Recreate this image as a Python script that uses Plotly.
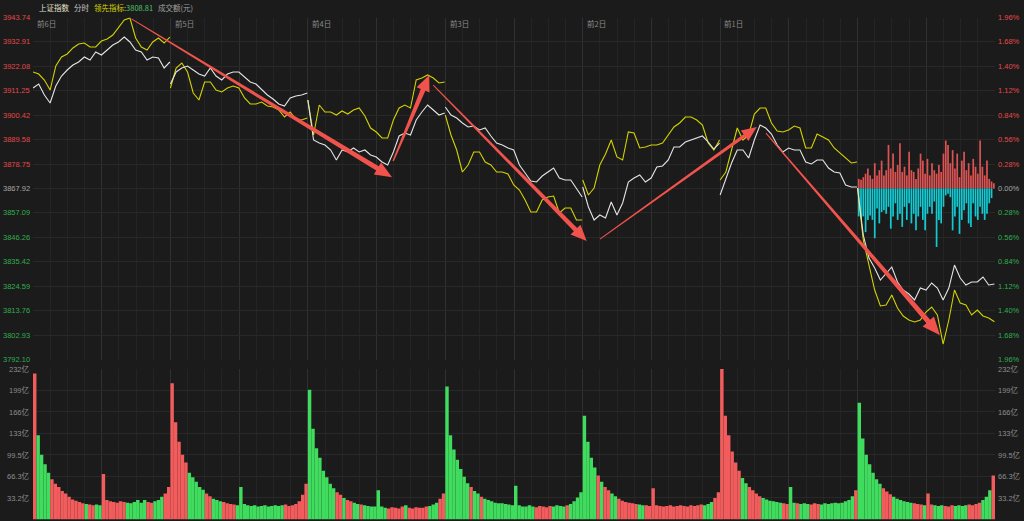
import numpy as np
import plotly.graph_objects as go

# ---------------- data ----------------
PREV_CLOSE = 3867.92
LEAD_LAST = 3808.81
day_labels = ["前6日", "前5日", "前4日", "前3日", "前2日", "前1日"]

price_ticks = [3943.74, 3932.91, 3922.08, 3911.25, 3900.42, 3889.58, 3878.75, 3867.92,
               3857.09, 3846.26, 3835.42, 3824.59, 3813.76, 3802.93, 3792.10]
pct_labels = ["1.96%", "1.68%", "1.40%", "1.12%", "0.84%", "0.56%", "0.28%", "0.00%",
              "0.28%", "0.56%", "0.84%", "1.12%", "1.40%", "1.68%", "1.96%"]
vol_ticks = [33.2, 66.3, 99.5, 133, 166, 199, 232]
vol_labels = ["33.2亿", "66.3亿", "99.5亿", "133亿", "166亿", "199亿", "232亿"]

# 上证指数 (white line), one value every 10 minutes per day
idx_d1 = [3912.48, 3914.25, 3909.38, 3905.83, 3913.37, 3917.80, 3920.46, 3922.68, 3924.01, 3926.23,
          3924.90, 3928.44, 3927.11, 3929.33, 3931.55, 3932.88, 3935.09, 3932.88, 3929.33, 3928.44,
          3924.90, 3926.23, 3925.78, 3921.35, 3924.01]
idx_d2 = [3914.25, 3919.58, 3921.35, 3922.24, 3920.46, 3918.69, 3917.80, 3921.35, 3917.80, 3916.03,
          3918.69, 3919.58, 3919.58, 3917.36, 3915.14, 3914.25, 3911.59, 3909.38, 3907.60, 3905.39,
          3904.50, 3908.05, 3908.93, 3909.38, 3910.26]
idx_d3 = [3907.16, 3889.42, 3888.09, 3887.21, 3884.99, 3880.56, 3884.99, 3884.10, 3885.88, 3884.10,
          3884.99, 3882.77, 3881.89, 3879.67, 3878.34, 3884.10, 3891.20, 3892.53, 3891.64, 3898.29,
          3901.84, 3904.94, 3902.73, 3900.51, 3901.40]
idx_d4 = [3904.06, 3900.51, 3899.18, 3896.96, 3895.19, 3895.63, 3893.86, 3894.74, 3891.20, 3888.09,
          3887.21, 3885.88, 3884.99, 3878.34, 3874.79, 3871.25, 3870.80, 3873.46, 3875.24, 3877.01,
          3872.57, 3871.69, 3871.69, 3868.14, 3864.15]
idx_d5 = [3868.58, 3859.71, 3853.95, 3856.17, 3854.84, 3861.93, 3856.17, 3861.49, 3870.80, 3872.57,
          3873.91, 3870.80, 3872.57, 3877.45, 3877.90, 3880.56, 3886.32, 3886.32, 3888.54, 3889.42,
          3890.31, 3891.20, 3888.54, 3885.43, 3888.09]
idx_d6 = [3865.04, 3872.57, 3879.23, 3884.99, 3884.99, 3881.44, 3889.42, 3896.07, 3894.74, 3892.08,
          3887.21, 3884.10, 3885.88, 3884.99, 3884.99, 3879.67, 3878.78, 3880.56, 3880.56, 3877.01,
          3875.24, 3874.79, 3869.47, 3868.58, 3868.58]
idx_d7 = [3868.14, 3847.30, 3837.10, 3832.67, 3827.35, 3830.01, 3833.11, 3826.46, 3822.91, 3821.14,
          3818.48, 3823.80, 3822.91, 3826.02, 3823.80, 3818.48, 3823.80, 3833.99, 3828.23, 3825.13,
          3826.46, 3826.46, 3828.68, 3825.13, 3825.57]

# 领先指标 (yellow line)
lead_d1 = [3919.58, 3918.69, 3916.03, 3911.59, 3922.24, 3926.23, 3927.56, 3930.22, 3931.99, 3932.43,
           3930.66, 3930.66, 3933.32, 3934.21, 3935.98, 3939.53, 3942.63, 3943.52, 3934.65, 3930.66,
           3929.33, 3932.88, 3934.65, 3932.43, 3935.09]
lead_d2 = [3912.48, 3921.35, 3923.57, 3919.58, 3910.26, 3907.16, 3915.14, 3915.14, 3911.59, 3910.71,
           3912.48, 3913.37, 3912.48, 3908.05, 3905.39, 3905.39, 3906.27, 3904.50, 3904.06, 3902.73,
           3899.62, 3901.84, 3898.74, 3898.29, 3899.18]
lead_d3 = [3907.16, 3891.64, 3904.94, 3901.84, 3901.84, 3900.51, 3902.28, 3900.95, 3902.73, 3903.61,
           3900.07, 3894.74, 3892.97, 3890.31, 3890.31, 3898.29, 3903.61, 3904.94, 3903.61, 3916.03,
           3916.91, 3918.25, 3916.91, 3914.70, 3915.14]
lead_d4 = [3900.51, 3891.64, 3884.99, 3875.24, 3878.34, 3884.10, 3884.10, 3879.67, 3878.34, 3875.24,
           3875.24, 3874.35, 3869.47, 3867.25, 3862.82, 3857.50, 3857.50, 3862.82, 3864.15, 3864.59,
           3857.06, 3859.27, 3859.27, 3853.95, 3853.95]
lead_d5 = [3871.69, 3865.04, 3868.14, 3878.34, 3883.22, 3889.42, 3881.89, 3880.56, 3892.97, 3892.53,
           3885.88, 3886.32, 3887.21, 3887.21, 3888.09, 3891.64, 3895.19, 3896.96, 3899.62, 3899.62,
           3898.29, 3896.07, 3888.09, 3884.99, 3889.42]
lead_d6 = [3871.69, 3875.24, 3884.99, 3894.74, 3889.42, 3891.64, 3900.95, 3903.61, 3903.61, 3896.96,
           3893.41, 3892.97, 3893.86, 3895.63, 3894.74, 3885.88, 3885.88, 3892.08, 3890.75, 3889.42,
           3885.88, 3883.66, 3881.44, 3879.23, 3879.67]
lead_d7 = [3868.14, 3845.08, 3833.99, 3822.91, 3815.82, 3816.26, 3820.70, 3814.93, 3811.39, 3809.61,
           3808.73, 3809.61, 3813.16, 3815.38, 3811.83, 3798.97, 3809.61, 3822.91, 3817.15, 3816.26,
           3811.83, 3814.05, 3811.39, 3810.50, LEAD_LAST]

# current-day red / cyan histogram (%), one per 4 minutes
hist_up = [0.11, 0.10, 0.13, 0.17, 0.23, 0.15, 0.11, 0.29, 0.15, 0.21, 0.32, 0.15, 0.21, 0.50, 0.23,
           0.40, 0.19, 0.27, 0.52, 0.19, 0.25, 0.15, 0.42, 0.21, 0.19, 0.11, 0.23, 0.40, 0.32, 0.17,
           0.34, 0.15, 0.29, 0.21, 0.17, 0.27, 0.19, 0.40, 0.55, 0.50, 0.29, 0.44, 0.23, 0.40, 0.13,
           0.32, 0.42, 0.21, 0.29, 0.15, 0.34, 0.25, 0.17, 0.55, 0.25, 0.15, 0.32, 0.11, 0.08, 0.06]
hist_down = [0.32, 0.34, 0.32, 0.50, 0.36, 0.31, 0.36, 0.57, 0.23, 0.40, 0.27, 0.25, 0.29, 0.21, 0.46,
             0.32, 0.17, 0.36, 0.29, 0.44, 0.21, 0.36, 0.17, 0.40, 0.29, 0.48, 0.32, 0.21, 0.36, 0.48,
             0.29, 0.21, 0.29, 0.15, 0.67, 0.36, 0.40, 0.21, 0.08, 0.06, 0.10, 0.48, 0.32, 0.21, 0.52,
             0.36, 0.25, 0.17, 0.40, 0.44, 0.17, 0.32, 0.36, 0.21, 0.29, 0.36, 0.29, 0.17, 0.11, 0.00]

# 成交额 (亿), one bar per 6 minutes
vol_d1 = [225, 130, 100, 85, 72, 62, 55, 50, 44, 40, 35, 31, 29, 27, 25, 24, 23, 22, 23, 22,
          70, 30, 28, 27, 26, 28, 27, 26, 25, 27, 30, 26, 30, 27, 26, 28, 30, 35, 40, 50]
vol_d2 = [210, 150, 120, 100, 88, 72, 65, 58, 50, 46, 40, 36, 32, 30, 28, 27, 25, 24, 23, 22,
          50, 24, 22, 21, 22, 20, 21, 22, 20, 21, 22, 21, 22, 23, 21, 22, 24, 28, 38, 55]
vol_d3 = [200, 140, 110, 95, 75, 65, 55, 48, 42, 38, 33, 30, 28, 26, 24, 23, 22, 21, 20, 20,
          45, 20, 18, 17, 19, 18, 17, 20, 22, 18, 17, 19, 18, 18, 20, 21, 23, 26, 32, 40]
vol_d4 = [205, 130, 108, 92, 78, 66, 56, 50, 44, 40, 35, 32, 30, 28, 26, 25, 25, 24, 23, 22,
          52, 22, 20, 20, 22, 20, 19, 21, 20, 19, 21, 20, 22, 21, 20, 22, 24, 28, 34, 42]
vol_d5 = [160, 120, 95, 80, 68, 58, 50, 45, 40, 36, 32, 29, 27, 26, 25, 24, 23, 22, 22, 21,
          48, 22, 21, 20, 21, 22, 20, 21, 22, 21, 20, 22, 21, 22, 23, 22, 24, 27, 33, 42]
vol_d6 = [232, 160, 130, 105, 88, 75, 64, 56, 50, 45, 40, 36, 33, 31, 29, 28, 27, 26, 25, 24,
          50, 26, 25, 24, 25, 24, 23, 25, 24, 23, 25, 24, 25, 26, 25, 26, 28, 30, 36, 45]
vol_d7 = [180, 125, 100, 85, 72, 62, 55, 48, 43, 39, 35, 32, 30, 28, 27, 26, 25, 24, 23, 22,
          40, 23, 22, 21, 22, 21, 20, 22, 21, 22, 21, 22, 23, 22, 24, 26, 30, 35, 45, 68]

idx_days = [idx_d1, idx_d2, idx_d3, idx_d4, idx_d5, idx_d6, idx_d7]
lead_days = [lead_d1, lead_d2, lead_d3, lead_d4, lead_d5, lead_d6, lead_d7]
vol_days = [vol_d1, vol_d2, vol_d3, vol_d4, vol_d5, vol_d6, vol_d7]

# hand-drawn arrows: (minute0, price0, minute1, price1)
arrow_pts = [
    (172, 3943.1, 627, 3872.9),
    (629, 3880.1, 692, 3918.2),
    (699, 3913.8, 967, 3844.6),
    (990, 3845.5, 1264, 3895.2),
    (1280, 3892.5, 1584, 3802.9),
]

# ---------------- layout constants ----------------
W, H = 1024, 521
ML, MR = 33, 29
DAY = 240
NDAYS = 7
XMAX = DAY * NDAYS
BG = "#1b1b1b"
RED = "#e24a4a"
GREEN = "#2fae4e"


def ypap(Y):
    return (H - Y) / H


price_dom = [ypap(359.5), ypap(17.5)]
vol_dom = [ypap(519.5), ypap(369.0)]
PRICE_MIN, PRICE_MAX = price_ticks[-1], price_ticks[0]


def day_x(d, n):
    return list(np.linspace(d * DAY, d * DAY + DAY - 1, n))


fig = go.Figure()

# current-day histogram
hx = [6 * DAY + 4 * k + 2 for k in range(len(hist_up))]
fig.add_trace(go.Bar(x=hx, y=[v * PREV_CLOSE / 100 for v in hist_up], base=PREV_CLOSE, width=3.0,
                     marker=dict(color="#f05a5a", line_width=0), opacity=0.9,
                     xaxis="x", yaxis="y", hoverinfo="skip"))
fig.add_trace(go.Bar(x=hx, y=[-v * PREV_CLOSE / 100 for v in hist_down], base=PREV_CLOSE, width=3.0,
                     marker=dict(color="#12dde6", line_width=0), opacity=0.9,
                     xaxis="x", yaxis="y", hoverinfo="skip"))


def joined(days):
    xs, ys = [], []
    for d, arr in enumerate(days):
        xs += day_x(d, len(arr)) + [None]
        ys += list(arr) + [None]
    return xs, ys


lx, ly = joined(lead_days)
fig.add_trace(go.Scatter(x=lx, y=ly, mode="lines", line=dict(color="#d2d200", width=1.1),
                         xaxis="x", yaxis="y", hoverinfo="skip"))
ix, iy = joined(idx_days)
fig.add_trace(go.Scatter(x=ix, y=iy, mode="lines", line=dict(color="#e4e4e4", width=1.1),
                         xaxis="x", yaxis="y", hoverinfo="skip"))

# volume bars, coloured by the index direction over each bar
vx, vy, vc = [], [], []
for d, vols in enumerate(vol_days):
    xw = day_x(d, len(idx_days[d]))
    step = DAY / len(vols)
    for k, v in enumerate(vols):
        t0 = d * DAY + step * k
        t1 = t0 + step
        p0 = np.interp(t0, xw, idx_days[d])
        p1 = np.interp(t1, xw, idx_days[d])
        vx.append(t0 + step / 2)
        vy.append(v)
        vc.append("#f25c5c" if p1 >= p0 else "#3fdc5e")
fig.add_trace(go.Bar(x=vx, y=vy, width=DAY / len(vol_d1), marker=dict(color=vc, line_width=0),
                     xaxis="x2", yaxis="y2", hoverinfo="skip"))

# arrows as tapered polygons (geometry in pixel space)
plot_w = W - ML - MR
sx = plot_w / XMAX
sy = (price_dom[1] - price_dom[0]) * H / (PRICE_MAX - PRICE_MIN)
arrow_style = [(1.0, 5.0, 17, 7), (1.5, 5.0, 16, 7), (1.0, 4.5, 16, 7), (1.0, 3.5, 15, 6.5), (1.0, 5.0, 18, 7.5)]
for (m0, p0, m1, p1), (w0, w1, hl, hw) in zip(arrow_pts, arrow_style):
    X0, Y0, X1, Y1 = m0 * sx, p0 * sy, m1 * sx, p1 * sy
    L = np.hypot(X1 - X0, Y1 - Y0)
    ux, uy = (X1 - X0) / L, (Y1 - Y0) / L
    nx, ny = -uy, ux
    Bx, By = X1 - ux * hl, Y1 - uy * hl
    pts = [(X0 + nx * w0 / 2, Y0 + ny * w0 / 2), (Bx + nx * w1 / 2, By + ny * w1 / 2),
           (Bx + nx * hw, By + ny * hw), (X1, Y1), (Bx - nx * hw, By - ny * hw),
           (Bx - nx * w1 / 2, By - ny * w1 / 2), (X0 - nx * w0 / 2, Y0 - ny * w0 / 2)]
    pts.append(pts[0])
    fig.add_trace(go.Scatter(x=[p[0] / sx for p in pts], y=[p[1] / sy for p in pts],
                             mode="lines", fill="toself", fillcolor="#f0524c",
                             line=dict(width=0, color="#f0524c"), xaxis="x", yaxis="y",
                             hoverinfo="skip"))

NUMFONT = "Arial, Liberation Sans, Noto Sans CJK SC, sans-serif"
CJKFONT = "Noto Sans CJK SC, Microsoft YaHei, sans-serif"
ann = []
# price axis labels
for i, (p, lab) in enumerate(zip(price_ticks, pct_labels)):
    col = RED if p > PREV_CLOSE + 0.001 else ("#a8a8a8" if abs(p - PREV_CLOSE) < 0.001 else GREEN)
    ann.append(dict(xref="paper", yref="y", x=0, y=p, text=f"{p:.2f}", xanchor="right",
                    yanchor="middle", showarrow=False, xshift=-1,
                    font=dict(size=7.5, color=col, family=NUMFONT)))
    ann.append(dict(xref="paper", yref="y", x=1, y=p, text=lab, xanchor="left",
                    yanchor="middle", showarrow=False, xshift=1,
                    font=dict(size=7.5, color=col, family=NUMFONT)))
# volume labels
for v, lab in zip(vol_ticks, vol_labels):
    for side in (0, 1):
        ann.append(dict(xref="paper", yref="y2", x=side, y=v, text=lab,
                        xanchor="right" if side == 0 else "left", yanchor="middle",
                        showarrow=False, xshift=-1 if side == 0 else 1,
                        font=dict(size=7.5, color="#8c8c8c", family=NUMFONT)))
# day labels
for d, lab in enumerate(day_labels):
    ann.append(dict(xref="x", yref="paper", x=d * DAY + 4, y=ypap(24), text=lab, xanchor="left",
                    yanchor="middle", showarrow=False,
                    font=dict(size=7.5, color="#8a8a8a", family=CJKFONT)))


# header
def px2paper(X):
    return (X - ML) / plot_w


header = [
    (37, "上证指数", "#e6e2cc"),
    (72, "分时", "#c8c8c8"),
    (92, "<span style='color:#d4d400'>领先指标:</span><span style='color:#4cc26a'>%.2f</span>" % LEAD_LAST, "#d4d400"),
    (156, "成交额(元)", "#a0a0a0"),
]
for X, txt, col in header:
    ann.append(dict(xref="paper", yref="paper", x=px2paper(X), y=ypap(8), text=txt,
                    xanchor="left", yanchor="middle", showarrow=False,
                    font=dict(size=7.5, color=col, family=CJKFONT)))

shapes = [dict(type="line", xref="paper", yref="y", x0=0, x1=1, y0=PREV_CLOSE, y1=PREV_CLOSE,
               line=dict(color="#4e4e4e", width=1), layer="below")]

xcommon = dict(range=[0, XMAX], showticklabels=False, zeroline=False, showline=False,
               tickvals=list(range(0, XMAX + 1, DAY // 2)), gridcolor="#303030", gridwidth=1,
               minor=dict(dtick=30, tick0=0, showgrid=True, gridcolor="#242424", gridwidth=1),
               ticks="")
fig.update_layout(
    width=W, height=H,
    margin=dict(l=ML, r=MR, t=0, b=0),
    paper_bgcolor=BG, plot_bgcolor=BG,
    showlegend=False, barmode="overlay",
    xaxis=dict(domain=[0, 1], anchor="y", **xcommon),
    xaxis2=dict(domain=[0, 1], anchor="y2", **xcommon),
    yaxis=dict(domain=price_dom, range=[PRICE_MIN, PRICE_MAX], tickvals=price_ticks,
               showticklabels=False, gridcolor="#282828", zeroline=False, showline=False),
    yaxis2=dict(domain=vol_dom, range=[0, 232], tickvals=vol_ticks, showticklabels=False,
                gridcolor="#282828", zeroline=False, showline=False),
    annotations=ann, shapes=shapes,
)

fig.write_html("out.html", config={"displayModeBar": False, "staticPlot": True},
               post_script="document.body.style.margin='0';document.body.style.overflow='hidden';"
                           "document.body.style.background='#1b1b1b';")
